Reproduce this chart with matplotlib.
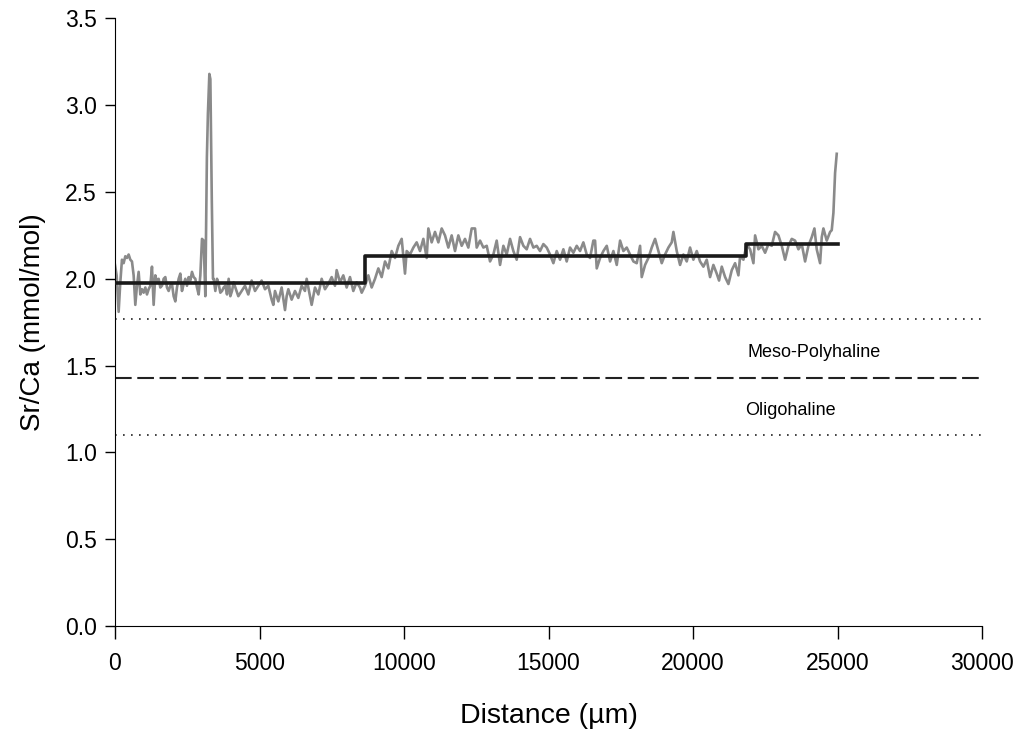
import numpy as np
import matplotlib.pyplot as plt

plt.rcParams['font.family'] = ['Liberation Sans', 'DejaVu Sans']

# LA-ICPMS trace (distance in um, Sr/Ca in mmol/mol)
dist = [0, 58, 127, 185, 242, 300, 358, 415, 473, 531, 588, 646, 704, 761, 819, 877,
        934, 992, 1050, 1107, 1165, 1223, 1280, 1338, 1396, 1453, 1511, 1569, 1626, 1684,
        1742, 1799, 1857, 1915, 1972, 2030, 2088, 2145, 2203, 2261, 2318, 2376, 2434, 2491,
        2549, 2607, 2664, 2722, 2780, 2837, 2895, 2953, 3010, 3068, 3126, 3180, 3215, 3265,
        3300, 3350, 3390, 3414, 3472, 3530, 3587, 3645, 3703, 3760, 3818, 3876, 3933, 3991,
        4049, 4106, 4164, 4267, 4383, 4498, 4613, 4729, 4844, 4959, 5074, 5190, 5305, 5420,
        5478, 5536, 5651, 5766, 5882, 5939, 5997, 6112, 6227, 6343, 6458, 6573, 6631, 6689,
        6804, 6919, 7035, 7150, 7265, 7380, 7496, 7611, 7669, 7784, 7899, 8015, 8130, 8245,
        8360, 8476, 8535, 8650, 8765, 8880, 8996, 9111, 9226, 9342, 9457, 9572, 9688, 9803,
        9918, 10033, 10091, 10206, 10322, 10437, 10552, 10668, 10783, 10841, 10956, 11071,
        11187, 11302, 11417, 11532, 11648, 11763, 11878, 11994, 12109, 12224, 12340, 12456,
        12514, 12629, 12744, 12860, 12975, 13090, 13205, 13321, 13436, 13551, 13667, 13782,
        13897, 14013, 14128, 14243, 14359, 14474, 14589, 14704, 14820, 14935, 15050, 15166,
        15281, 15396, 15512, 15627, 15742, 15858, 15973, 16088, 16203, 16319, 16434, 16549,
        16608, 16666, 16781, 16896, 17012, 17127, 17242, 17358, 17473, 17588, 17703, 17819,
        17934, 18049, 18165, 18222, 18338, 18453, 18568, 18684, 18799, 18914, 19029, 19145,
        19260, 19318, 19433, 19548, 19664, 19779, 19894, 20009, 20125, 20240, 20355, 20471,
        20586, 20701, 20816, 20897, 20991, 21106, 21221, 21337, 21452, 21567, 21625, 21740,
        21855, 21971, 22086, 22144, 22259, 22374, 22490, 22605, 22720, 22835, 22951, 23066,
        23181, 23297, 23412, 23527, 23643, 23758, 23873, 23988, 24104, 24196, 24276, 24392,
        24450, 24507, 24622, 24738, 24795, 24853, 24911, 24968]
srca = [2.08, 2.02, 1.81, 1.98, 2.11, 2.09, 2.13, 2.12, 2.14, 2.11, 2.10, 2.02, 1.85, 1.96, 2.04, 1.91,
        1.94, 1.92, 1.95, 1.91, 1.94, 1.96, 2.07, 1.85, 2.02, 1.98, 2.00, 1.95, 1.96, 2.00,
        2.01, 1.95, 1.93, 1.96, 1.97, 1.90, 1.87, 1.95, 2.00, 2.03, 1.93, 1.97, 2.00, 1.96,
        2.01, 1.99, 2.04, 2.01, 2.00, 1.95, 1.91, 2.02, 2.23, 2.22, 1.90, 2.70, 2.95, 3.18,
        3.15, 2.45, 2.00, 2.00, 1.93, 2.00, 1.97, 1.92, 1.93, 1.95, 1.96, 1.91, 2.00, 1.90,
        1.93, 1.98, 1.95, 1.90, 1.93, 1.96, 1.91, 1.99, 1.93, 1.96, 1.99, 1.94, 1.96, 1.88,
        1.85, 1.93, 1.87, 1.95, 1.82, 1.90, 1.94, 1.88, 1.93, 1.89, 1.96, 1.93, 2.00, 1.95,
        1.85, 1.95, 1.91, 2.00, 1.94, 1.97, 2.01, 1.96, 2.05, 1.98, 2.02, 1.95, 2.01, 1.93,
        1.98, 1.95, 1.92, 1.96, 2.02, 1.95, 2.00, 2.06, 2.01, 2.10, 2.06, 2.16, 2.12, 2.19,
        2.23, 2.03, 2.16, 2.14, 2.18, 2.21, 2.16, 2.23, 2.12, 2.29, 2.21, 2.27,
        2.21, 2.29, 2.25, 2.18, 2.25, 2.16, 2.25, 2.19, 2.23, 2.18, 2.29, 2.29,
        2.18, 2.22, 2.18, 2.19, 2.10, 2.14, 2.22, 2.08, 2.19, 2.14, 2.23, 2.16,
        2.11, 2.24, 2.19, 2.17, 2.23, 2.18, 2.19, 2.16, 2.20, 2.18, 2.14, 2.09,
        2.16, 2.11, 2.17, 2.10, 2.18, 2.15, 2.19, 2.16, 2.21, 2.14, 2.12, 2.22,
        2.22, 2.06, 2.12, 2.16, 2.19, 2.10, 2.16, 2.08, 2.22, 2.16, 2.18, 2.14,
        2.10, 2.09, 2.19, 2.01, 2.08, 2.12, 2.18, 2.23, 2.16, 2.09, 2.14, 2.18,
        2.21, 2.27, 2.16, 2.08, 2.14, 2.10, 2.18, 2.11, 2.16, 2.10, 2.07, 2.11,
        2.01, 2.08, 2.03, 1.99, 2.07, 2.01, 1.97, 2.05, 2.09, 2.02, 2.13, 2.11,
        2.20, 2.17, 2.09, 2.25, 2.17, 2.19, 2.15, 2.20, 2.19, 2.27, 2.25, 2.19,
        2.11, 2.19, 2.23, 2.22, 2.17, 2.20, 2.10, 2.19, 2.24, 2.29, 2.17, 2.09,
        2.24, 2.29, 2.22, 2.27, 2.28, 2.38, 2.61, 2.72]

# mean values of the growth zones
step_x = [0, 8650, 21830, 25020]
step_y = [1.975, 2.13, 2.20]

# salinity thresholds
upper_lim = 1.77
mid_lim = 1.43
lower_lim = 1.10

fig = plt.figure(figsize=(10.21, 7.34), dpi=100)
ax = fig.add_axes([0.1126, 0.147, 0.8494, 0.828])

ax.plot(dist, srca, color='#8a8a8a', lw=1.9, zorder=2)
ax.step(step_x, step_y + [step_y[-1]], where='post', color='#1a1a1a', lw=2.6, zorder=3)

ax.axhline(upper_lim, color='#222222', lw=1.2, ls=(0, (1, 3.8)))
ax.axhline(lower_lim, color='#222222', lw=1.2, ls=(0, (1, 3.8)))
ax.axhline(mid_lim, color='#222222', lw=1.5, ls=(0, (8, 2.7)))

ax.text(21870, 1.578, 'Meso-Polyhaline', fontsize=13, va='center', ha='left')
ax.text(21800, 1.244, 'Oligohaline', fontsize=13, va='center', ha='left')

ax.set_xlim(0, 30000)
ax.set_ylim(0, 3.5)
ax.set_xticks(np.arange(0, 30001, 5000))
ax.set_yticks(np.arange(0, 3.51, 0.5))
ax.set_yticklabels(['%.1f' % v for v in np.arange(0, 3.51, 0.5)])
ax.spines['top'].set_visible(False)
ax.spines['right'].set_visible(False)
ax.tick_params(direction='out', length=7, width=1, labelsize=16.5, pad=6)
ax.tick_params(axis='x', length=9, pad=10)
ax.set_xlabel('Distance (\u00b5m)', fontsize=20.5, labelpad=20)
ax.set_ylabel('Sr/Ca (mmol/mol)', fontsize=20, labelpad=14)

fig.savefig('out.png', dpi=100)
